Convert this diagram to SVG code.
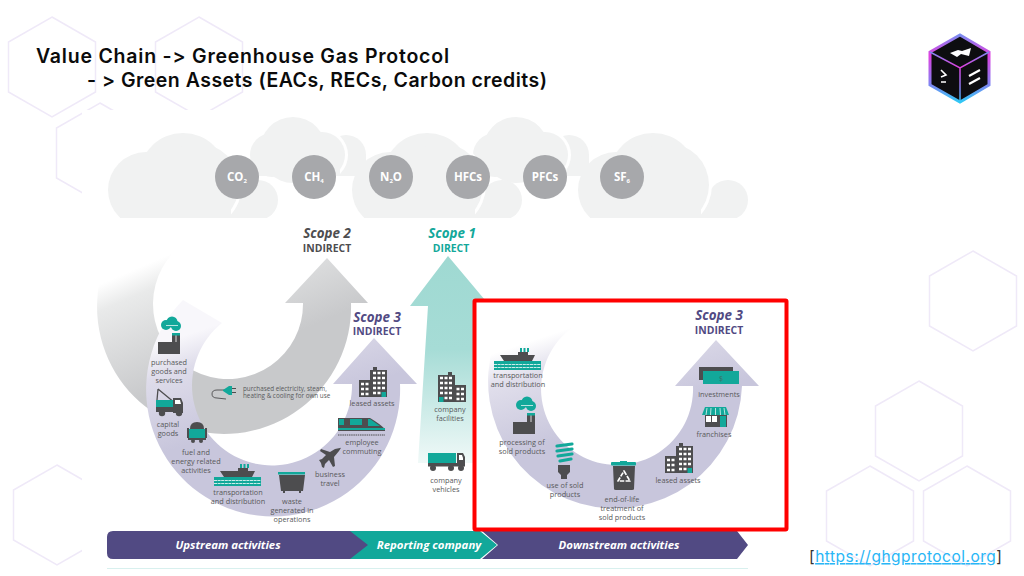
<svg xmlns="http://www.w3.org/2000/svg" width="1024" height="576" viewBox="0 0 1024 576">
<style>
.hex{fill:none;stroke:#efe9f8;stroke-width:1.5}
.t{font-family:"Open Sans","Noto Sans",sans-serif;font-size:7.3px;fill:#58595b;text-anchor:middle}
.t2{font-family:"Open Sans","Noto Sans",sans-serif;font-size:6.3px;fill:#58595b}
.gas{font-family:"Open Sans","Noto Sans",sans-serif;font-size:11.5px;font-weight:700;fill:#fff;text-anchor:middle}
.sub{font-size:6px}
.sc{font-family:"Open Sans","Noto Sans",sans-serif;font-size:13.4px;font-weight:700;font-style:italic;text-anchor:middle}
.kind{font-family:"Open Sans","Noto Sans",sans-serif;font-size:10.4px;font-weight:700;text-anchor:middle}
.bar{font-family:"Open Sans","Noto Sans",sans-serif;font-size:11.4px;font-weight:700;font-style:italic;fill:#fff;text-anchor:middle}
.title{font-family:"Inter","Noto Sans",sans-serif;font-size:19.5px;font-weight:600;fill:#0b0b0b;font-feature-settings:"calt" 0,"liga" 0;font-variant-ligatures:none}
.g{fill:#4d4d4f}.c{fill:#12a89a}.w{fill:#fff}
.cl{fill:#f1f2f2}
.gasc{fill:#a7a8ab}
</style>
<defs>
<polygon id="hx" points="0,-50 43.5,-25 43.5,25 0,50 -43.5,25 -43.5,-25"/>
<clipPath id="cloudclip"><rect x="100" y="110" width="660" height="108"/></clipPath>
<linearGradient id="s2" gradientUnits="userSpaceOnUse" x1="173" y1="253" x2="221" y2="365"><stop offset="0" stop-color="#fff"/><stop offset=".2" stop-color="#e9eaea"/><stop offset="1" stop-color="#c8c9cb"/></linearGradient>
<linearGradient id="s3" gradientUnits="userSpaceOnUse" x1="222" y1="323" x2="255" y2="422"><stop offset="0" stop-color="#f8f7fb"/><stop offset=".3" stop-color="#dedcea"/><stop offset="1" stop-color="#c8c6dc"/></linearGradient>
<linearGradient id="s3r" gradientUnits="userSpaceOnUse" x1="573" y1="327" x2="606" y2="426"><stop offset="0" stop-color="#fff"/><stop offset=".3" stop-color="#e0deeb"/><stop offset="1" stop-color="#c8c6dc"/></linearGradient>
<linearGradient id="s1" x1="0" y1="0" x2="0" y2="1"><stop offset="0" stop-color="#9fd9d2"/><stop offset=".45" stop-color="#a6dcd6"/><stop offset="1" stop-color="#f0f9f8"/></linearGradient>
<linearGradient id="lg" x1="0" y1="0" x2="0" y2="1"><stop offset="0" stop-color="#7b8cf0"/><stop offset=".3" stop-color="#e040e0"/><stop offset=".7" stop-color="#8a7cf0"/><stop offset="1" stop-color="#30c8f5"/></linearGradient>
<g id="cloudA">
<circle class="cl" cx="258" cy="200" r="20"/><rect class="cl" x="225" y="198" width="42" height="20"/>
<circle class="w" cx="197" cy="185" r="45"/>
<circle class="cl" cx="146" cy="190" r="38"/><circle class="cl" cx="183" cy="177" r="44"/><circle class="cl" cx="197" cy="185" r="42"/>
<rect class="cl" x="121" y="190" width="110" height="28"/>
</g>
<g id="cloudB">
<circle class="cl" cx="346" cy="155" r="20"/><rect class="cl" x="335" y="155" width="31" height="21"/>
<circle class="w" cx="322" cy="155" r="26"/>
<circle class="cl" cx="272" cy="155" r="22"/><circle class="cl" cx="293" cy="150" r="33"/><circle class="cl" cx="322" cy="155" r="23"/>
<rect class="cl" x="252" y="155" width="88" height="21"/>
</g>
<g id="bldg">
<path class="g" d="M0 13H11V3H14V0H18V3H28V30H0Z"/>
<g stroke="#fff" stroke-width="2.6" stroke-dasharray="3 1.5" fill="none">
<path d="M14 6H27M14 11H27M14 16H27M14 21H27M14 26H22"/>
<path d="M2 17H11M2 22H11M2 27H11"/>
</g>
<rect class="c" x="22.500" y="25" width="4.500" height="5"/>
</g>
<g id="ship">
<rect class="c" x="0" y="9" width="47" height="9"/>
<path d="M0 12.500H47M0 15.500H47" stroke="#fff" stroke-width=".8" stroke-dasharray="3 .6"/>
<path class="g" d="M6 3H24V0H34V3H41L38 9H10Z"/>
<path d="M27 -4V0M30.500 -4V0M34 -4V0" stroke="#12a89a" stroke-width="2"/>
</g>
<g id="factory">
<path class="g" d="M0 0V-12H14V-21H22V0Z"/>
<path d="M18 -21V-12" stroke="#fff" stroke-width=".8"/>
<rect class="c" x="14" y="-21" width="8" height="2.500"/>
<g class="c"><circle cx="8" cy="-29" r="5"/><circle cx="14" cy="-32" r="5.500"/><circle cx="18" cy="-28" r="5"/></g>
<path d="M8 -28.500H20" stroke="#fff" stroke-width=".7"/>
</g>
</defs>

<g id="background-hexagons">
<use href="#hx" class="hex" x="52" y="67"/>
<use href="#hx" class="hex" x="199" y="67"/>
<use href="#hx" class="hex" x="100" y="153"/>
<use href="#hx" class="hex" x="57" y="515"/>
<use href="#hx" class="hex" x="973" y="301"/>
<use href="#hx" class="hex" x="919" y="431"/>
<use href="#hx" class="hex" x="870" y="516"/>
<use href="#hx" class="hex" x="967" y="516"/>
</g>
<rect x="82" y="110" width="670" height="462" fill="#fff"/>

<g id="title">
<text class="title" x="36" y="63" textLength="413" lengthAdjust="spacing">Value Chain -&gt; Greenhouse Gas Protocol</text>
<text class="title" x="87" y="87" textLength="460" lengthAdjust="spacing">- &gt; Green Assets (EACs, RECs, Carbon credits)</text>
</g>

<g id="logo">
<polygon points="960,35 989,52 989,85 960,102 930,85 930,52" fill="#0d0d10" stroke="url(#lg)" stroke-width="3"/>
<path d="M930 52L960 68L989 52M960 68V102" fill="none" stroke="url(#lg)" stroke-width="1.500"/>
<path d="M950 53L958 50L962 51L971 48L969 56L961 54L957 57Z" fill="#fff"/>
<path d="M941 70L946 75L941 77M941 82H946" fill="none" stroke="#fff" stroke-width="1.600"/>
<path d="M969 76L980 70M969 84L980 78" stroke="#fff" stroke-width="2.200"/>
</g>

<g id="clouds" clip-path="url(#cloudclip)">
<use href="#cloudB"/><use href="#cloudB" x="223"/>
<use href="#cloudA"/><use href="#cloudA" x="244"/><use href="#cloudA" x="470"/>
</g>

<g id="gas-co2"><circle class="gasc" cx="237" cy="177" r="22"/><text class="gas" x="237" y="181">CO<tspan class="sub" dy="2">2</tspan></text></g>
<g id="gas-ch4"><circle class="gasc" cx="314" cy="177" r="22"/><text class="gas" x="314" y="181">CH<tspan class="sub" dy="2">4</tspan></text></g>
<g id="gas-n2o"><circle class="gasc" cx="391" cy="177" r="22"/><text class="gas" x="391" y="181">N<tspan class="sub" dy="2">2</tspan><tspan dy="-2">O</tspan></text></g>
<g id="gas-hfcs"><circle class="gasc" cx="468" cy="177" r="22"/><text class="gas" x="468" y="181">HFCs</text></g>
<g id="gas-pfcs"><circle class="gasc" cx="545" cy="177" r="22"/><text class="gas" x="545" y="181">PFCs</text></g>
<g id="gas-sf6"><circle class="gasc" cx="622" cy="177" r="22"/><text class="gas" x="622" y="181">SF<tspan class="sub" dy="2">6</tspan></text></g>

<g id="connectors">
<path id="scope2-arrow" fill="url(#s2)" d="M123 230A127 127 0 1 0 351 303H368L327 258L285 303H303A75 75 0 1 1 173 253Z"/>
<path id="scope3-upstream-arrow" fill="url(#s3)" d="M183 300A127 127 0 1 0 400 384H417L374 338L333 384H352A80 80 0 1 1 222 323Z"/>
<path id="scope1-arrow" fill="url(#s1)" d="M448 256L490 306H474V463H418L428 306H410Z"/>
</g>

<g id="scope2-label"><text class="sc g" x="327" y="238">Scope 2</text><text class="kind g" x="327" y="252">INDIRECT</text></g>
<g id="scope1-label"><text class="sc c" x="452" y="238">Scope 1</text><text class="kind c" x="451" y="252">DIRECT</text></g>
<g id="scope3-up-label"><text class="sc" fill="#514a83" x="377" y="322">Scope 3</text><text class="kind" fill="#514a83" x="377" y="335">INDIRECT</text></g>

<g id="purchased-goods"><use href="#factory" x="158" y="354"/><text class="t"><tspan x="169" y="365">purchased</tspan><tspan x="169" y="374">goods and</tspan><tspan x="169" y="383">services</tspan></text></g>
<g id="electricity">
<path d="M226 390H217Q212 390 212 394T217 398L226 399" fill="none" stroke="#4d4d4f" stroke-width=".9"/>
<path class="c" d="M223 390L229 386H232V395H229L223 391Z"/><path d="M232 388.500H236M232 392.500H236" stroke="#4d4d4f" stroke-width="1.200"/>
<text class="t2"><tspan x="243" y="391">purchased electricity, steam,</tspan><tspan x="243" y="398">heating &amp; cooling for own use</tspan></text>
</g>
<g id="capital-goods">
<path d="M158 389L175 403M158 389L157 400" stroke="#4d4d4f" stroke-width="1.300" fill="none"/>
<rect class="c" x="156" y="400" width="17" height="7"/><rect class="g" x="156" y="407" width="18" height="5"/>
<path class="g" d="M173 398H181L183 403V413H173Z"/><path class="w" d="M175 400H180L181 404H175Z"/>
<circle class="g" cx="162" cy="413" r="3.200"/><circle class="g" cx="179" cy="413" r="3.200"/>
<text class="t"><tspan x="168" y="427">capital</tspan><tspan x="168" y="436">goods</tspan></text>
</g>
<g id="fuel-energy">
<path class="g" d="M190 429Q190 422 197 422T204 429Z"/><rect class="c" x="189" y="429" width="16" height="9"/><path class="g" d="M187 428H189V438H187ZM205 428H207V438H205ZM188 438H206V440H188Z"/>
<circle class="g" cx="193" cy="441" r="2"/><circle class="g" cx="201" cy="441" r="2"/>
<text class="t"><tspan x="196" y="455">fuel and</tspan><tspan x="196" y="464">energy related</tspan><tspan x="196" y="473">activities</tspan></text>
</g>
<g id="transport-up"><use href="#ship" x="214" y="468"/><text class="t"><tspan x="238" y="495">transportation</tspan><tspan x="238" y="504">and distribution</tspan></text></g>
<g id="waste">
<rect class="c" x="278" y="472" width="27" height="2.500"/><path class="g" d="M279 475H305L303 491H281Z"/><rect class="g" x="283" y="491" width="2" height="2"/><rect class="g" x="299" y="491" width="2" height="2"/>
<text class="t"><tspan x="292" y="504">waste</tspan><tspan x="292" y="513">generated in</tspan><tspan x="292" y="522">operations</tspan></text>
</g>
<g id="business-travel">
<path class="g" d="M340 449Q342 448 339 452L334 458L335 467L333 468L329 461L325 465L324 469L322 468L321 464L319 461L322 460L326 456L320 452L321 450L330 453L335 450Z" transform="translate(0 -1)"/>
<text class="t"><tspan x="330" y="477">business</tspan><tspan x="330" y="486">travel</tspan></text>
</g>
<g id="employee-commuting">
<path class="g" d="M338 418H370Q380 424 385 429V431H338Z"/><rect class="c" x="350" y="419" width="12" height="6"/><rect class="c" x="339" y="419" width="5" height="6"/><path class="c" d="M370 419L380 426H368V419Z"/><rect class="c" x="338" y="428" width="47" height="2"/>
<path d="M338 435H385" stroke="#4d4d4f" stroke-width="1" stroke-dasharray="1.500 .7"/>
<text class="t"><tspan x="362" y="445">employee</tspan><tspan x="362" y="454">commuting</tspan></text>
</g>
<g id="leased-up"><use href="#bldg" x="359" y="367"/><text class="t" x="372" y="406">leased assets</text></g>

<g id="company-facilities"><use href="#bldg" transform="translate(466 372) scale(-1 1)"/><text class="t"><tspan x="450" y="412">company</tspan><tspan x="450" y="421">facilities</tspan></text></g>
<g id="company-vehicles">
<rect class="c" x="428" y="453" width="28" height="10"/><rect class="g" x="428" y="463" width="37" height="3.500"/><path class="g" d="M457 453H463L465 457V466H457Z"/><path class="w" d="M459 455H462L463 458V460H459Z"/>
<circle class="g" cx="433" cy="468" r="3"/><circle class="g" cx="451" cy="468" r="3"/><circle class="g" cx="461" cy="468" r="3"/>
<text class="t"><tspan x="446" y="483">company</tspan><tspan x="446" y="492">vehicles</tspan></text>
</g>

<g id="activity-bar">
<path fill="#514a83" d="M482 531H737L748 545L737 559H482L498 545Z"/>
<path class="c" d="M350 531H480L497 545L480 559H350Z"/>
<path fill="#514a83" d="M113 531H350L368 545L350 559H113Q107 559 107 553V537Q107 531 113 531Z"/>
<text class="bar" x="228" y="549">Upstream activities</text>
<text class="bar" x="429" y="549">Reporting company</text>
<text class="bar" x="619" y="549">Downstream activities</text>
<rect x="107" y="568" width="641" height="1" fill="#d8f0ee"/>
</g>

<g id="highlight">
<rect x="474.500" y="300.500" width="312" height="229" rx="1" fill="#fff" stroke="#f00" stroke-width="4"/>
</g>
<path id="scope3-downstream-arrow" fill="url(#s3r)" d="M505 318A127 127 0 1 0 742 386H759L716 340L675 386H693A76 76 0 1 1 573 327Z"/>
<g id="scope3-down-label"><text class="sc" fill="#514a83" x="719" y="320">Scope 3</text><text class="kind" fill="#514a83" x="719" y="334">INDIRECT</text></g>

<g id="transport-down"><use href="#ship" x="494" y="352"/><text class="t"><tspan x="518" y="378">transportation</tspan><tspan x="518" y="387">and distribution</tspan></text></g>
<g id="processing"><use href="#factory" x="513" y="434"/><text class="t"><tspan x="522" y="445">processing of</tspan><tspan x="522" y="454">sold products</tspan></text></g>
<g id="use-sold">
<path d="M557 446L572 444M557 451L572 449M558 456L572 454M560 461L571 459" stroke="#12a89a" stroke-width="3.200" stroke-linecap="round"/>
<path class="g" d="M558 465H570V472L567 475V479H561V475L558 472Z"/>
<text class="t"><tspan x="565" y="488">use of sold</tspan><tspan x="565" y="497">products</tspan></text>
</g>
<g id="end-of-life">
<rect class="c" x="611" y="462" width="25" height="3.500" rx="1"/><rect class="c" x="620" y="461" width="7" height="2"/><path class="g" d="M613 466H635L634 489Q634 490 632 490H616Q614 490 614 489Z"/>
<path d="M624 471L630 481H618Z" fill="none" stroke="#fff" stroke-width="1.700" stroke-linejoin="round" stroke-dasharray="4.500 1.300"/>
<text class="t"><tspan x="622" y="502">end-of-life</tspan><tspan x="622" y="511">treatment of</tspan><tspan x="622" y="520">sold products</tspan></text>
</g>
<g id="leased-down"><use href="#bldg" x="665" y="443"/><text class="t" x="678" y="483">leased assets</text></g>
<g id="franchises">
<path class="g" d="M705 415H727V427H705Z"/><rect class="w" x="706" y="416" width="5" height="6"/><rect class="w" x="712" y="416" width="5" height="6"/><rect class="c" x="720" y="416" width="6" height="11"/>
<path class="c" d="M705 407H726L729 415H702Z"/><path d="M707 408L706 415M711 408L710.500 415M715.500 408V415M720 408L720.500 415M724 408L725 415" stroke="#fff" stroke-width=".7"/>
<text class="t" x="714" y="437">franchises</text>
</g>
<g id="investments">
<rect class="g" x="699" y="367" width="34" height="13"/><rect class="c" x="703" y="371" width="36" height="13"/>
<text x="721" y="380.500" font-family="Open Sans, sans-serif" font-size="7" fill="#3d6f6a" text-anchor="middle">$</text>
<text class="t" x="719" y="397">investments</text>
</g>

<g id="source">
<text font-family="Inter, 'Noto Sans', sans-serif" font-size="15.500" x="809" y="562" fill="#333" textLength="193" lengthAdjust="spacing">[<tspan fill="#29b6f6" text-decoration="underline">https://ghgprotocol.org</tspan>]</text>
</g>
</svg>
